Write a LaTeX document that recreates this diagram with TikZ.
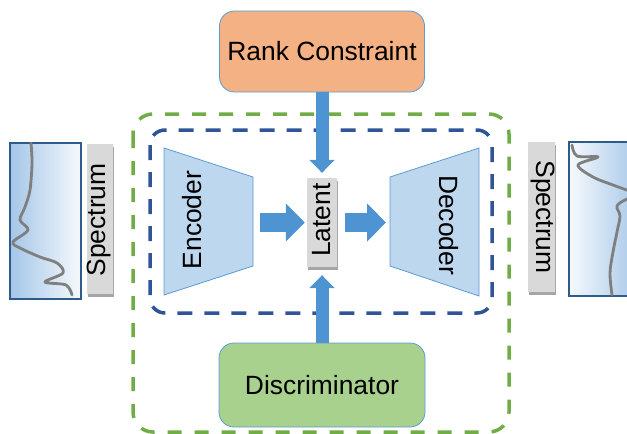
\documentclass[tikz,border=0pt]{standalone}
\usepackage{fontspec}
\setmainfont{Liberation Sans}
\usetikzlibrary{arrows.meta,shadows}
\definecolor{orangeF}{HTML}{F4B183}
\definecolor{greenF}{HTML}{A9D18E}
\definecolor{edgeB}{HTML}{5B9BD5}
\definecolor{arrowB}{HTML}{4E93D2}
\definecolor{trapF}{HTML}{BDD7EE}
\definecolor{greyF}{HTML}{D9D9D9}
\definecolor{dashB}{HTML}{2F5597}
\definecolor{dashG}{HTML}{70AD47}
\definecolor{specB}{HTML}{A4C6E8}
\definecolor{specEdge}{HTML}{2E5C8A}
\definecolor{curveG}{HTML}{7F7F7F}
\begin{document}
\begin{tikzpicture}[x=1pt,y=-1pt,
  lbl/.style={font=\fontsize{26.4}{30}\selectfont},
  boxnode/.style={draw=edgeB, line width=0.8pt, rounded corners=15pt, inner sep=0pt, lbl},
  greytag/.style={fill=greyF, inner sep=0pt, drop shadow={shadow xshift=0.6pt, shadow yshift=-3pt, opacity=0.35, fill=black}},
  trap/.style={draw=edgeB, fill=trapF, line width=0.8pt},
  harrow/.style={draw=arrowB, line width=19pt, -{Triangle[length=19pt,width=37pt]}},
  varrow/.style={draw=arrowB, line width=13pt, -{Triangle[length=13pt,width=25pt]}},
  specbox/.style={draw=specEdge, line width=2pt, inner sep=0pt},
  curve/.style={draw=curveG, line width=2.8pt, line cap=round, line join=round}
]
\useasboundingbox (0,0) rectangle (627,434);

% dashed frames
\draw[dashG, line width=3.5pt, dash pattern=on 14pt off 13pt, rounded corners=20pt] (133,114) rectangle (509,432);
\draw[dashB, line width=3.5pt, dash pattern=on 15pt off 12pt, rounded corners=15pt] (150,130) rectangle (492,313);

% top and bottom boxes
\node[boxnode, fill=orangeF, minimum width=205pt, minimum height=81pt] (rank) at (322,51.5) {Rank Constraint};
\node[boxnode, fill=greenF, minimum width=206pt, minimum height=84pt] (disc) at (322,385) {Discriminator};

% encoder / decoder
\draw[trap] (164,148) -- (253,177) -- (253,266) -- (164,295) -- cycle;
\draw[trap] (390,177) -- (479,148) -- (479,296) -- (390,266) -- cycle;
\node[lbl, rotate=90] (encT) at (192,220) {Encoder};
\node[lbl, rotate=-90] (decT) at (449,225) {Decoder};
\coordinate (encR) at (253,222.5);
\coordinate (decL) at (390,222.5);

% latent
\node[greytag, minimum width=30pt, minimum height=89pt] (lat) at (322,222.5) {};
\node[lbl, rotate=90] (latT) at (322,220) {Latent};

% arrows
\draw[varrow, shorten >=5pt] (rank.south) -- (lat.north);
\draw[varrow, shorten >=8pt] (disc.north) -- (lat.south);
\draw[harrow, shorten <=7pt, shorten >=2pt] (encR) -- (lat.west);
\draw[harrow, shorten <=8pt, shorten >=4pt] (lat.east) -- (decL);

% left spectrum
\node[specbox, left color=specB, right color=specB!10!white, minimum width=71pt, minimum height=156pt] (specL) at (45.5,221) {};
\draw[curve] plot[smooth, tension=0.55] coordinates {(31,143) (32,163) (30,190) (25,207) (20,220) (28,230) (13,242) (20,248) (40,257) (57,263) (63,273) (45,282) (66,285) (72,295)};
\node[greytag, minimum width=26pt, minimum height=150pt] (tagL) at (100,218.5) {};
\node[lbl, rotate=90] (tagLT) at (99,220) {Spectrum};

% right spectrum
\node[specbox, left color=specB!10!white, right color=specB, minimum width=71pt, minimum height=154pt] (specR) at (604.5,219) {};
\draw[curve] plot[smooth, tension=0.55] coordinates {(572,145) (577,156) (598,157) (578,165) (593,177) (613,185) (632,192) (640,196)};
\draw[curve] plot[smooth, tension=0.55] coordinates {(640,196) (627,199) (617,206) (620,216) (617,232) (613,252) (610,273) (612,295)};
\node[greytag, minimum width=27pt, minimum height=150pt] (tagR) at (541.5,217) {};
\node[lbl, rotate=-90] (tagRT) at (543,217) {Spectrum};
\end{tikzpicture}
\end{document}
